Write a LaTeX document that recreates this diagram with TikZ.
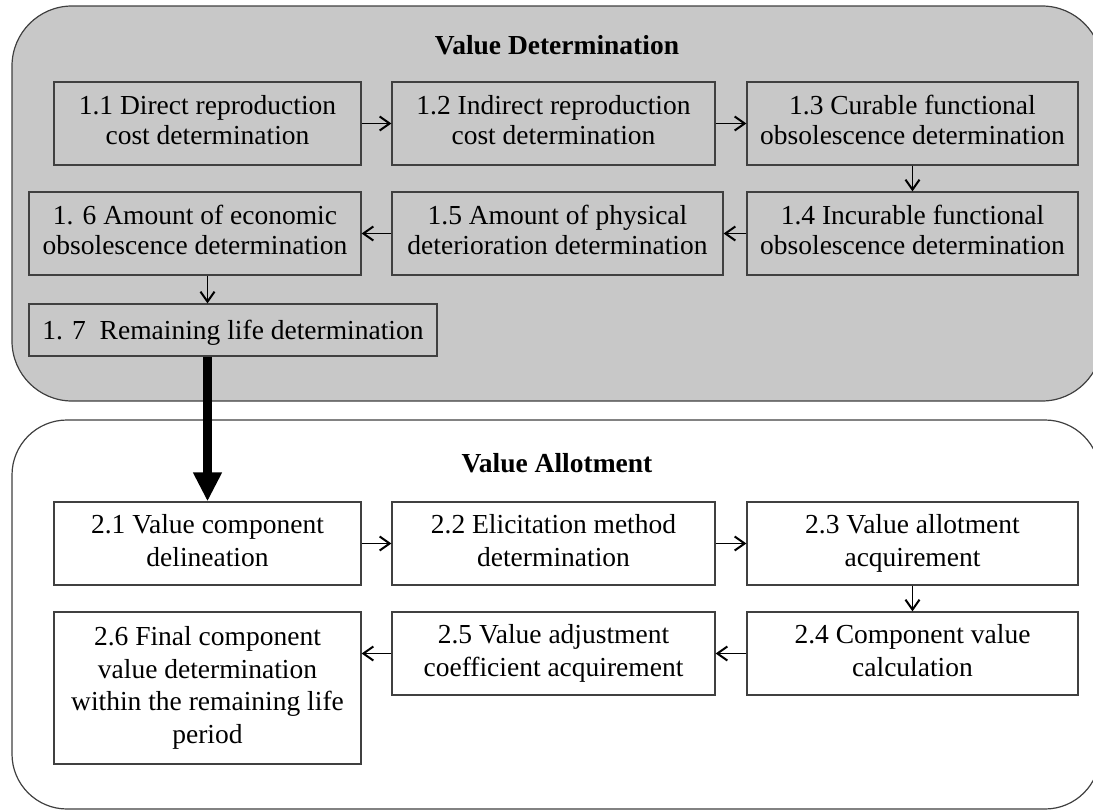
\documentclass[tikz,border=0pt]{standalone}
\usepackage{fontspec}
\setmainfont{Liberation Serif}
\usetikzlibrary{arrows.meta}
\definecolor{framegray}{RGB}{200,200,200}
\definecolor{edgegray}{RGB}{64,64,64}
\newcommand\boxstrut{\rule[-6.5pt]{0pt}{31.5pt}}
\tikzset{
  procbox/.style={draw=edgegray, line width=1.2pt, inner sep=0pt, align=center,
    font=\fontsize{27.5}{30}\selectfont,
    execute at begin node=\boxstrut, execute at end node=\boxstrut},
  lowbox/.style={procbox, font=\fontsize{27.5}{32.5}\selectfont},
  flow/.style={draw=black, line width=1pt, -{Straight Barb[length=10pt,width=14pt,line width=2pt]}},
  bigflow/.style={draw=black, line width=9pt, -{Triangle[length=29pt,width=27pt]}},
  frametitle/.style={font=\fontsize{27.5}{30}\selectfont\bfseries, inner sep=0pt}
}
\begin{document}
\begin{tikzpicture}[x=1pt,y=-1pt]
\useasboundingbox (0,0) rectangle (1093,811);
\clip (0,0) rectangle (1093,811);
% frames
\draw[fill=framegray, draw=edgegray, line width=1.2pt, rounded corners=60pt] (12,6) rectangle (1102,401);
\draw[fill=white, draw=edgegray, line width=1.2pt, rounded corners=55pt] (12,420) rectangle (1100,809);
\node[frametitle] (t1) at (557,45) {Value Determination};
\node[frametitle] (t2) at (557,463) {Value Allotment};
% top boxes
\node[procbox, minimum width=307pt, minimum height=83pt] (b11) at (207.5,123.5) {1.1 Direct reproduction\\cost determination};
\node[procbox, minimum width=323pt, minimum height=83pt] (b12) at (553.5,123.5) {1.2 Indirect reproduction\\cost determination};
\node[procbox, minimum width=331pt, minimum height=83pt] (b13) at (912.5,123.5) {1.3 Curable functional\\obsolescence determination};
\node[procbox, minimum width=331pt, minimum height=83pt] (b14) at (912.5,233.5) {1.4 Incurable functional\\obsolescence determination};
\node[procbox, minimum width=331pt, minimum height=83pt] (b15) at (557.5,233.5) {1.5 Amount of physical\\deterioration determination};
\node[procbox, minimum width=332pt, minimum height=83pt] (b16) at (195,233.5) {1. 6 Amount of economic\\obsolescence determination};
\node[procbox, minimum width=408pt, minimum height=52pt] (b17) at (233,330) {1. 7\ \ Remaining life determination};
% bottom boxes
\node[lowbox, minimum width=307pt, minimum height=83pt] (b21) at (207.5,543.5) {2.1 Value component\\delineation};
\node[lowbox, minimum width=323pt, minimum height=83pt] (b22) at (553.5,543.5) {2.2 Elicitation method\\determination};
\node[lowbox, minimum width=331pt, minimum height=83pt] (b23) at (912.5,543.5) {2.3 Value allotment\\acquirement};
\node[lowbox, minimum width=331pt, minimum height=83pt] (b24) at (912.5,653.5) {2.4 Component value\\calculation};
\node[lowbox, minimum width=323pt, minimum height=83pt] (b25) at (553.5,653.5) {2.5 Value adjustment\\coefficient acquirement};
\node[lowbox, minimum width=307pt, minimum height=152pt] (b26) at (207.5,688) {2.6 Final component\\value determination\\within the remaining life\\period};
% connectors
\draw[flow] (b11.east) -- (b12.west);
\draw[flow] (b12.east) -- (b13.west);
\draw[flow] (b13.south) -- (b14.north);
\draw[flow] (b14.west) -- (b15.east);
\draw[flow] (b15.west) -- (b16.east);
\draw[flow] (b16.south -| b11) -- (b17.north -| b11);
\draw[bigflow] (b17.south -| b11) -- (b21.north);
\draw[flow] (b21.east) -- (b22.west);
\draw[flow] (b22.east) -- (b23.west);
\draw[flow] (b23.south) -- (b24.north);
\draw[flow] (b24.west) -- (b25.east);
\draw[flow] (b25.west) -- (b25.west -| b26.east);
\end{tikzpicture}
\end{document}
